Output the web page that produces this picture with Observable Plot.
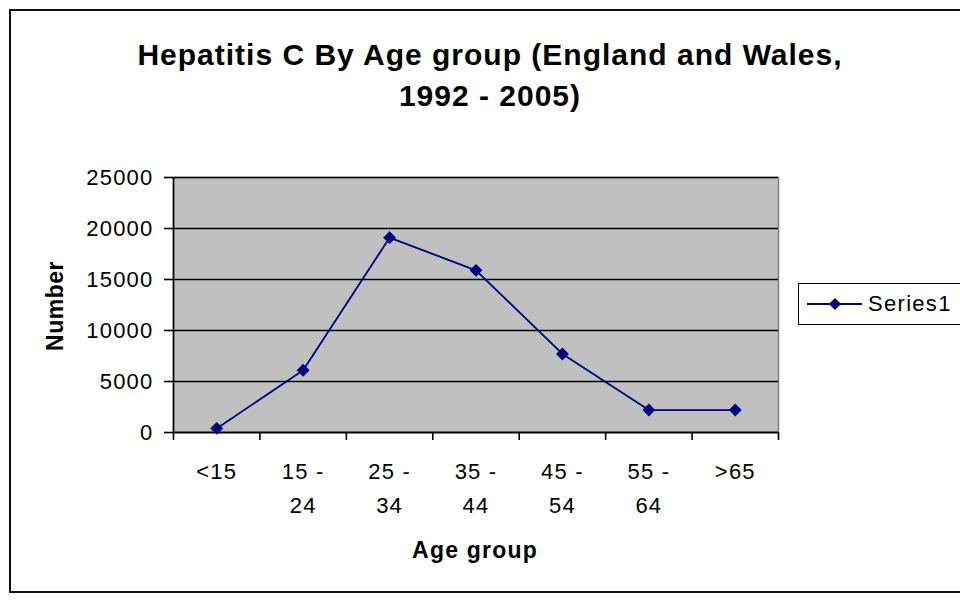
<!DOCTYPE html>
<html>
<head>
<meta charset="utf-8">
<script src="https://cdn.jsdelivr.net/npm/d3@7"></script>
<script src="https://cdn.jsdelivr.net/npm/@observablehq/plot@0.6"></script>
<style>
  body { margin: 0; background: #fff; font-family: "Liberation Sans", Arial, sans-serif; }
  #wrap { position: relative; width: 960px; height: 602px; overflow: hidden; background: #fff; }
  #border { position: absolute; left: 9px; top: 9px; width: 1000px; height: 584px; border: 2px solid #111; box-sizing: border-box; }
  #title { position: absolute; left: 0; top: 34px; width: 980px; text-align: center; font-weight: bold; font-size: 30px; letter-spacing: 1px; line-height: 41px; color: #000; }
  #chart { position: absolute; left: 0; top: 0; }
  #xlabel { position: absolute; left: 325px; width: 300px; top: 537px; text-align: center; font-weight: bold; font-size: 23px; letter-spacing: 1.2px; color: #000; }
  #ylabel { position: absolute; left: 55px; top: 306px; transform: translate(-50%, -50%) rotate(-90deg); font-weight: bold; font-size: 23px; letter-spacing: 0.5px; color: #000; white-space: nowrap; }
  #legend { position: absolute; left: 798px; top: 283px; width: 170px; height: 42px; border: 1.5px solid #000; box-sizing: border-box; background: #fff; }
  #legend svg { position: absolute; left: 8px; top: 9px; }
  #legend span { position: absolute; left: 69px; top: 7px; font-size: 22px; letter-spacing: 1.3px; color: #000; }
</style>
</head>
<body>
<div id="wrap">
  <div id="border"></div>
  <div id="chart"></div>
  <div id="title">Hepatitis C By Age group (England and Wales,<br>1992 - 2005)</div>
  <div id="xlabel">Age group</div>
  <div id="ylabel">Number</div>
  <div id="legend">
    <svg width="60" height="22"><line x1="0" y1="11" x2="55" y2="11" stroke="#000080" stroke-width="1.8"/><path d="M28,5L34,11L28,17L22,11Z" fill="#000080"/></svg>
    <span>Series1</span>
  </div>
</div>
<script>
const categories = ["<15", "15 - 24", "25 - 34", "35 - 44", "45 - 54", "55 - 64", ">65"];
const tickLabels = ["<15", "15 -\n24", "25 -\n34", "35 -\n44", "45 -\n54", "55 -\n64", ">65"];
const values = [400, 6100, 19100, 15900, 7700, 2200, 2200];
const yTicks = [0, 5000, 10000, 15000, 20000, 25000];

const data = categories.map((c, i) => ({ i, category: c, value: values[i] }));
const n = categories.length;

const chart = Plot.plot({
  width: 960,
  height: 602,
  marginLeft: 173,
  marginRight: 182,
  marginTop: 177,
  marginBottom: 170,
  style: { fontFamily: "'Liberation Sans', Arial, sans-serif", fontSize: "22px", letterSpacing: "1.2px", background: "transparent", color: "#000" },
  x: { type: "linear", domain: [-0.5, n - 0.5], label: null },
  y: { domain: [0, 25000], label: null },
  marks: [
    Plot.frame({ fill: "#c0c0c0", stroke: "#808080", strokeWidth: 1.5 }),
    Plot.gridY(yTicks, { stroke: "#000", strokeOpacity: 1, strokeWidth: 1.6 }),
    Plot.ruleX([-0.5], { stroke: "#000", strokeWidth: 1.6 }),
    Plot.ruleY([0], { stroke: "#000", strokeWidth: 1.6 }),
    Plot.axisY(yTicks, { tickSize: 9, tickPadding: 11, strokeWidth: 1.6, fontSize: 22, tickFormat: d => String(d), label: null }),
    Plot.axisX(d3.range(-0.5, n + 0.5, 1), { tickSize: 8, strokeWidth: 1.6, tickFormat: () => "", label: null }),
    Plot.axisX(d3.range(n), { tickSize: 0, tickPadding: 22, fontSize: 22, lineHeight: 1.55, tickFormat: i => tickLabels[i], label: null }),
    Plot.line(data, { x: "i", y: "value", stroke: "#000080", strokeWidth: 1.8 }),
    Plot.dot(data, { x: "i", y: "value", symbol: "diamond2", r: 5.8, fill: "#000080", stroke: "none" })
  ]
});
document.getElementById("chart").appendChild(chart);
</script>
</body>
</html>
